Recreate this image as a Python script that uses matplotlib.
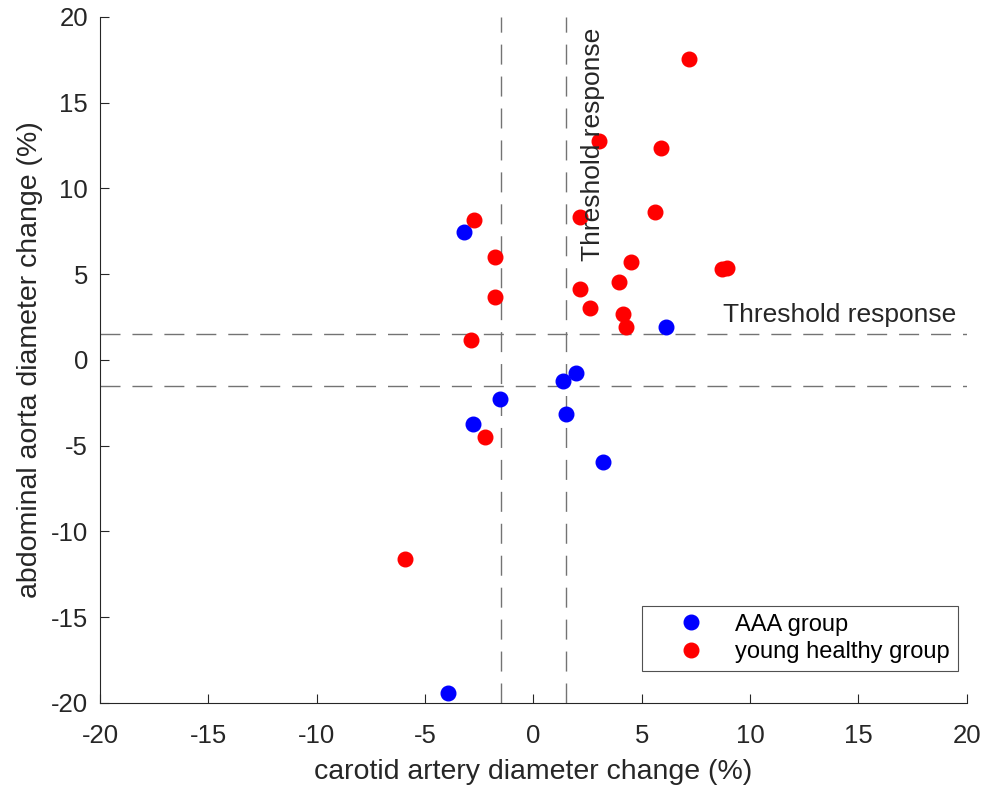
import matplotlib
matplotlib.use("Agg")
import matplotlib.pyplot as plt

# AAA group (carotid %, abdominal aorta %)
aaa_x = [-3.2, 6.1, 1.37, 1.99, -1.56, -2.78, 1.52, 3.2, -3.94]
aaa_y = [7.45, 1.92, -1.22, -0.74, -2.29, -3.75, -3.17, -5.93, -19.4]

# young healthy group
young_x = [7.18, 3.03, 5.89, -2.74, 2.15, 5.63, -1.75, 4.52, 3.95, 2.17,
           -1.78, 2.62, 4.15, 4.26, -2.89, -2.22, -5.93, 8.7, 8.95]
young_y = [17.55, 12.77, 12.36, 8.18, 8.36, 8.61, 5.99, 5.71, 4.53, 4.14,
           3.67, 3.01, 2.70, 1.94, 1.17, -4.49, -11.6, 5.3, 5.35]

threshold = 1.5
ticks = [-20, -15, -10, -5, 0, 5, 10, 15, 20]

plt.rcParams['font.family'] = ['Liberation Sans', 'DejaVu Sans']
plt.rcParams['axes.unicode_minus'] = False
dark = (0.15, 0.15, 0.15)
grey = (0.45, 0.45, 0.45)

fig = plt.figure(figsize=(9.84, 7.89), dpi=100)
ax = fig.add_axes([0.1016, 0.109, 0.8808, 0.8695])

ax.plot(aaa_x, aaa_y, 'o', color='blue', markersize=10.5, label='AAA group')
ax.plot(young_x, young_y, 'o', color='red', markersize=10.5, label='young healthy group')

for v in (-threshold, threshold):
    ax.axvline(v, color=grey, lw=1, dashes=(14.4, 8.6), zorder=0)
    ax.axhline(v, color=grey, lw=1, dashes=(14.4, 8.6), zorder=0)

ax.text(2.75, 5.8, 'Threshold response', rotation=90, ha='center', va='bottom',
        fontsize=19, color=dark)
ax.text(8.75, 2.6, 'Threshold response', ha='left', va='center',
        fontsize=19, color=dark)

ax.set_xlim(-20, 20)
ax.set_ylim(-20, 20)
ax.set_xticks(ticks)
ax.set_yticks(ticks)
ax.tick_params(direction='in', length=6.5, width=0.8, labelsize=18.5, colors=dark)
ax.tick_params(axis='x', pad=15)
ax.tick_params(axis='y', pad=8.5)
for s in ('top', 'right'):
    ax.spines[s].set_visible(False)
for s in ('left', 'bottom'):
    ax.spines[s].set_color(dark)
    ax.spines[s].set_linewidth(0.8)

ax.set_xlabel('carotid artery diameter change (%)', fontsize=20.5, color=dark, labelpad=8)
ax.set_ylabel('abdominal aorta diameter change (%)', fontsize=20.5, color=dark, labelpad=6)

leg = ax.legend(loc='lower right', bbox_to_anchor=(0.9896, 0.0467), borderaxespad=0,
                fancybox=False, fontsize=17, handletextpad=0.15, borderpad=0.32,
                handlelength=3.5, labelspacing=0.25)
leg.get_frame().set_edgecolor(dark)
leg.get_frame().set_linewidth(0.8)

fig.savefig('out.png', dpi=100)
